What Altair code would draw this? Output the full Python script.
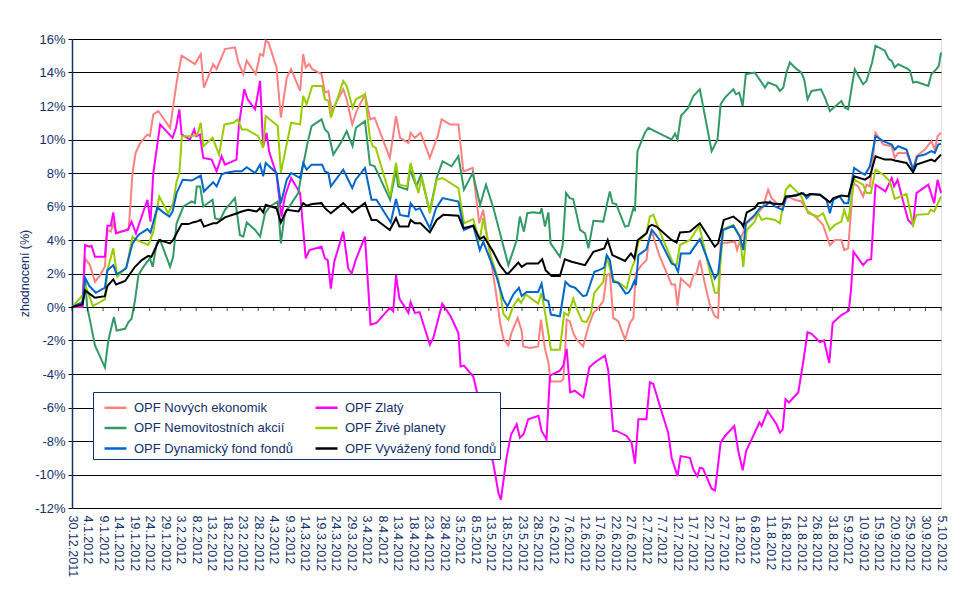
import datetime as dt
import pandas as pd
import altair as alt

# ---- data: (days after 30.12.2011, return in %) ----
START = dt.datetime(2011, 12, 30)
END = dt.datetime(2012, 10, 5)

NOVE = [(0,0),(3.4,0.1),(4.2,2.9),(5.8,2.5),(7.4,1.5),(9.0,1.9),(10.6,2.4),(11.4,4.6),(12.5,4.5),(13.3,5.0),(14.2,4.4),(17.4,4.6),(18.3,4.7),(19.5,8.0),(20.5,9.2),(22.0,9.8),(24.3,10.3),(25.1,10.2),(26.2,11.5),(27.8,11.7),(31.6,10.7),(33.7,13.4),(35.3,15.0),(39.6,14.5),(41.5,15.1),(42.5,13.1),(45.5,14.5),(46.6,14.2),(49.3,15.4),(52.5,15.5),(53.6,14.6),(55.2,13.9),(56.3,14.7),(59.2,13.9),(60.6,15.1),(61.6,15.0),(62.4,15.9),(63.3,15.8),(65.9,14.3),(67.3,11.3),(69.2,13.7),(70.6,14.2),(73.5,12.9),(74.5,15.1),(75.3,14.3),(76.4,14.5),(77.4,14.2),(80.4,13.9),(81.5,12.8),(82.6,12.9),(83.7,11.7),(87.4,13.0),(88.5,12.4),(90.3,10.9),(91.7,11.7),(94.4,12.7),(96.1,11.2),(97.5,11.3),(102.4,8.9),(104.4,11.4),(105.7,10.1),(108.4,9.8),(109.1,10.4),(110.5,10.1),(112.3,10.4),(115.3,8.9),(118.0,10.3),(119.1,11.2),(121.8,10.9),(124.5,10.9),(126.1,8.1),(129.1,8.3),(131.2,5.0),(132.5,5.8),(133.6,4.4),(136.5,1.0),(138.0,-1.0),(139.0,-1.9),(140.6,-2.3),(141.6,-1.55),(143.6,-0.65),(144.9,-1.45),(145.4,-2.35),(147.6,-2.45),(150.2,-2.35),(151.1,-0.75),(152.4,-2.5),(153.5,-3.3),(154.2,-4.45),(157.5,-4.45),(158.3,-4.3),(158.8,-2.9),(159.4,-0.75),(160.4,-0.85),(161.5,-1.55),(162.6,-1.95),(164.7,-2.35),(166.4,-1.15),(168.0,-0.35),(169.6,-0.05),(171.2,0.35),(172.3,1.9),(173.3,2.0),(174.4,-0.65),(176.0,-0.85),(178.2,-1.95),(179.8,-0.95),(180.9,-0.65),(181.6,2.0),(183.5,2.5),(185.1,2.8),(185.9,4.0),(186.8,4.5),(189.4,3.0),(193.2,1.35),(194.3,1.35),(195.1,0.05),(196.2,1.7),(199.1,1.2),(200.2,1.9),(201.2,2.0),(202.3,2.8),(203.9,1.4),(205.5,0.15),(207.1,-0.55),(208.2,-0.65),(209.0,3.8),(213.6,3.9),(214.3,3.4),(215.3,4.0),(217.4,5.0),(220.0,5.4),(222.7,6.0),(224.3,7.0),(225.4,6.5),(227.6,6.1),(229.2,6.0),(230.2,6.6),(231.8,6.5),(232.9,6.4),(235.0,6.3),(237.2,5.7),(239.5,5.4),(242.0,4.9),(244.2,3.7),(245.8,4.0),(247.9,4.0),(248.8,3.4),(250.1,3.5),(251.7,7.4),(253.3,7.2),(254.9,6.6),(256.0,7.3),(257.1,7.2),(258.9,10.4),(261.4,9.7),(264.1,9.6),(265.1,8.9),(266.2,9.2),(268.9,9.2),(271.0,8.2),(272.1,9.0),(274.8,9.4),(276.9,9.9),(278.0,9.4),(278.9,10.2),(280.0,10.4)]

ZLATY = [(0,0),(3.4,0.0),(4.2,3.7),(5.6,3.6),(6.3,3.65),(7.4,3.0),(10.6,3.0),(11.4,4.85),(12.5,4.85),(13.3,5.65),(14.2,4.4),(16.0,4.5),(18.0,4.6),(19.2,5.1),(20.6,4.4),(24.3,6.4),(25.3,5.1),(26.2,8.0),(28.4,10.9),(32.4,10.1),(33.5,10.7),(34.6,11.8),(35.3,10.3),(38.0,10.0),(39.4,10.6),(40.0,10.2),(41.2,10.3),(42.3,8.9),(45.0,8.8),(46.6,8.1),(48.2,9.0),(49.3,8.5),(53.0,8.8),(53.8,10.9),(55.5,13.0),(56.6,12.4),(59.0,11.8),(60.6,13.5),(61.6,9.6),(62.7,10.4),(63.5,9.3),(65.9,7.9),(67.5,5.4),(68.6,6.6),(70.6,7.7),(73.5,6.8),(75.3,2.9),(76.5,3.4),(80.4,3.6),(81.5,2.9),(82.4,2.8),(83.4,1.1),(84.5,2.7),(87.4,4.5),(89.0,2.3),(90.1,2.0),(91.4,2.8),(94.4,4.2),(96.2,-1.05),(98.1,-0.95),(102.4,-0.05),(103.5,-0.25),(104.4,1.9),(105.5,0.5),(108.4,-0.35),(109.1,0.3),(110.5,-0.35),(112.0,-0.3),(115.3,-2.25),(116.4,-1.85),(119.3,0.2),(122.0,-0.55),(124.5,-1.55),(125.2,-3.55),(126.3,-3.5),(129.3,-4.15),(130.9,-5.4),(133.5,-7.5),(135.8,-9.4),(137.4,-11.1),(138.2,-11.5),(140.0,-9.0),(141.5,-7.6),(143.3,-7.0),(144.3,-7.8),(145.5,-7.6),(147.0,-6.7),(150.3,-6.5),(151.3,-7.4),(152.9,-7.9),(154.0,-4.1),(157.2,-3.8),(158.3,-3.5),(159.4,-2.5),(160.5,-5.1),(162.0,-5.0),(164.8,-5.4),(166.7,-3.6),(168.5,-3.3),(171.7,-2.9),(172.8,-3.8),(174.4,-7.4),(175.5,-7.4),(178.7,-7.7),(180.3,-8.1),(181.4,-9.35),(182.5,-6.7),(185.1,-6.7),(186.2,-4.5),(187.3,-4.6),(189.4,-5.9),(192.1,-7.5),(193.2,-9.0),(195.1,-10.1),(196.1,-8.9),(199.1,-9.0),(200.2,-9.7),(201.5,-10.1),(202.3,-9.6),(203.3,-9.65),(206.1,-10.85),(207.2,-10.95),(209.0,-8.1),(210.4,-7.7),(213.4,-7.1),(214.7,-8.6),(216.1,-9.75),(217.2,-8.6),(219.5,-7.7),(221.5,-6.9),(222.2,-7.1),(224.1,-6.2),(227.0,-7.0),(228.1,-7.5),(229.0,-7.3),(229.9,-5.5),(231.0,-5.7),(234.0,-5.1),(235.6,-3.3),(237.0,-1.5),(238.3,-1.6),(241.0,-2.1),(242.3,-2.0),(244.0,-3.35),(245.1,-0.95),(247.8,-0.5),(249.6,-0.3),(250.3,-0.2),(251.0,1.0),(251.8,3.3),(254.9,2.5),(256.3,2.8),(257.5,2.85),(258.9,7.3),(262.1,6.9),(264.1,7.7),(264.9,7.2),(266.0,7.6),(267.8,6.3),(269.4,5.2),(271.0,4.9),(272.1,6.8),(275.9,7.3),(277.8,6.2),(278.9,7.6),(280.0,6.8)]

NEMO = [(0,0),(3.4,0.3),(4.2,1.7),(4.9,0.0),(5.8,-0.8),(7.4,-2.3),(10.6,-3.6),(11.7,-2.0),(13.5,-0.6),(14.4,-1.4),(17.1,-1.3),(18.2,-0.9),(19.2,-0.7),(20.3,0.4),(21.4,1.9),(23.0,2.4),(25.1,2.9),(26.0,2.4),(27.3,3.8),(28.4,4.0),(31.6,2.4),(32.6,3.0),(33.7,5.0),(35.9,6.0),(38.6,6.3),(39.6,6.2),(40.2,7.2),(41.3,7.2),(42.3,6.0),(45.3,6.4),(46.1,5.3),(47.7,5.2),(49.3,5.8),(52.5,6.5),(54.1,4.3),(55.2,4.2),(56.3,5.05),(59.0,4.6),(60.6,4.2),(62.2,5.6),(63.8,6.0),(66.3,6.3),(67.3,3.8),(68.6,5.6),(72.9,6.8),(74.0,8.0),(75.9,9.8),(77.2,10.8),(80.4,11.2),(81.5,10.6),(82.6,10.4),(84.2,9.1),(86.9,9.9),(88.5,10.5),(90.4,9.6),(91.5,10.7),(94.4,11.1),(96.0,8.5),(97.5,8.4),(102.5,6.4),(104.4,8.2),(105.1,7.2),(108.0,7.0),(108.9,8.2),(111.0,7.2),(112.4,7.9),(115.3,5.7),(117.5,7.7),(119.4,8.7),(122.3,8.4),(124.5,9.0),(126.3,7.0),(129.1,8.0),(131.5,6.1),(133.4,7.3),(135.8,5.9),(140.6,2.5),(143.3,4.0),(144.3,5.4),(145.6,4.5),(146.7,5.6),(148.6,5.65),(150.8,5.6),(151.3,5.9),(152.4,4.8),(153.5,5.65),(154.2,3.8),(157.2,3.0),(158.1,3.7),(159.2,6.8),(160.4,6.5),(161.5,6.45),(163.7,4.6),(165.3,4.4),(166.4,3.5),(168.0,5.15),(171.2,5.1),(172.5,6.25),(173.3,6.9),(174.2,6.2),(175.3,6.15),(178.2,4.8),(179.3,4.85),(180.9,5.9),(181.4,5.8),(182.2,9.3),(183.5,9.9),(184.6,10.4),(185.7,10.7),(188.9,10.4),(193.2,10.0),(194.3,10.35),(195.1,10.0),(196.2,11.4),(198.6,11.9),(200.2,12.6),(202.3,13.0),(206.1,9.3),(208.0,10.0),(209.0,12.1),(210.4,12.5),(213.1,13.0),(213.9,12.7),(215.0,12.8),(216.1,12.0),(217.1,13.9),(220.0,14.0),(223.3,13.1),(224.3,13.4),(227.0,13.2),(228.1,12.9),(229.2,13.1),(230.2,14.0),(231.3,14.6),(233.5,14.2),(235.0,14.0),(235.9,13.6),(237.0,12.4),(238.3,12.9),(241.3,13.0),(242.6,12.5),(244.2,11.7),(247.9,12.3),(249.0,11.9),(250.1,11.8),(252.2,14.2),(254.9,13.3),(256.0,13.5),(257.8,14.6),(258.9,15.6),(261.9,15.3),(263.2,14.8),(264.1,14.7),(265.1,14.3),(266.2,14.5),(269.4,14.2),(270.0,14.1),(271.0,13.4),(272.1,13.45),(275.9,13.2),(276.9,13.9),(278.5,14.2),(279.3,14.4),(280.0,15.2)]

ZIVE = [(0,0),(3.7,0.75),(4.5,1.2),(6.7,0.05),(10.6,0.45),(11.4,2.2),(13.3,3.5),(14.6,1.8),(17.6,2.4),(19.5,4.2),(20.8,4.0),(24.6,3.7),(26.2,4.5),(28.1,6.6),(31.0,5.6),(32.6,6.2),(33.7,7.5),(34.6,8.0),(35.4,10.2),(38.6,10.2),(40.4,10.3),(41.5,11.0),(42.3,9.6),(45.3,10.1),(47.4,9.1),(49.1,10.9),(52.0,11.0),(53.4,11.2),(54.7,10.6),(56.3,10.6),(60.0,10.2),(61.6,9.5),(62.4,11.4),(66.3,10.8),(67.3,8.0),(68.6,9.2),(70.6,11.0),(73.5,10.9),(74.5,12.6),(75.6,12.1),(77.4,13.2),(80.6,13.2),(81.5,12.4),(82.6,12.3),(83.4,11.3),(85.8,12.6),(87.4,13.5),(88.5,13.2),(90.4,11.9),(91.5,12.4),(94.4,12.7),(96.0,10.1),(96.9,9.6),(97.9,9.5),(102.5,6.6),(104.4,8.6),(105.5,7.3),(108.0,7.2),(109.1,8.6),(111.6,6.8),(112.7,7.8),(115.3,5.6),(117.5,7.6),(119.4,7.7),(124.5,7.1),(126.3,5.0),(129.3,5.25),(131.3,3.9),(132.5,5.3),(135.0,3.0),(137.4,1.6),(139.0,-0.4),(140.6,-0.75),(142.2,0.05),(143.8,0.5),(144.7,0.25),(146.2,0.75),(150.2,0.2),(151.3,0.85),(152.9,-0.85),(154.3,-2.55),(157.2,-2.55),(158.6,-0.35),(159.9,-0.5),(161.5,0.5),(162.6,-0.1),(164.4,-0.85),(165.8,-0.9),(167.2,-0.35),(168.3,0.85),(171.2,1.5),(172.3,3.0),(174.4,1.6),(176.6,1.4),(178.7,1.1),(180.3,2.3),(181.4,2.8),(182.5,3.9),(185.1,4.4),(186.2,5.4),(187.3,5.5),(189.4,4.5),(193.7,2.6),(194.8,2.5),(195.9,3.7),(199.1,4.0),(202.1,4.85),(207.1,0.85),(208.2,0.85),(209.8,4.65),(213.1,4.9),(215.2,4.2),(216.3,2.4),(217.4,4.6),(220.0,5.1),(221.1,5.6),(222.2,5.2),(223.8,5.3),(226.5,5.2),(228.1,5.0),(230.0,7.0),(231.3,7.3),(233.5,6.9),(235.0,6.6),(237.2,5.6),(240.4,5.4),(242.0,5.6),(244.2,4.6),(245.8,4.9),(247.9,5.1),(248.8,5.8),(250.1,5.1),(252.0,7.6),(254.9,7.3),(256.0,6.8),(257.4,6.8),(258.9,8.2),(261.4,7.9),(263.5,7.5),(265.1,6.45),(268.9,6.75),(271.0,4.9),(272.1,5.5),(275.9,5.55),(276.7,5.8),(277.8,5.7),(280.0,6.6)]

DYN = [(0,0),(3.4,0.25),(4.2,1.75),(5.6,1.25),(7.7,0.85),(10.6,1.15),(11.4,2.2),(13.3,2.5),(14.4,1.95),(17.4,2.3),(19.5,3.8),(21.4,4.3),(24.3,4.65),(25.3,4.45),(27.5,5.95),(29.4,5.65),(31.4,5.4),(32.4,5.7),(33.7,6.8),(35.7,7.6),(38.6,7.55),(41.5,7.85),(42.5,6.9),(45.5,7.45),(46.6,7.2),(48.2,7.9),(49.3,8.0),(52.5,8.1),(54.7,8.1),(56.3,8.35),(59.0,8.0),(60.6,8.5),(61.6,7.8),(62.4,8.6),(65.9,8.0),(67.3,6.2),(69.2,7.6),(70.6,8.0),(73.5,7.7),(74.5,8.6),(75.6,8.2),(77.2,8.5),(80.6,8.5),(81.5,8.1),(82.6,8.0),(83.4,7.2),(87.4,8.2),(89.0,7.6),(90.3,7.1),(91.4,7.6),(94.4,8.3),(96.5,6.4),(98.1,6.4),(102.7,5.05),(104.4,6.45),(105.7,5.5),(108.4,5.4),(109.1,6.2),(110.8,5.8),(112.1,5.9),(115.3,4.7),(117.3,5.9),(119.4,6.5),(124.5,6.3),(126.3,4.6),(129.3,4.85),(131.4,3.4),(132.5,3.9),(136.3,2.1),(139.0,0.45),(140.3,0.05),(142.2,0.75),(144.0,1.15),(144.9,0.65),(146.5,0.9),(150.2,0.9),(151.3,1.4),(152.2,0.45),(153.5,0.35),(154.3,-0.45),(157.2,-0.55),(159.0,1.5),(160.4,1.25),(162.1,1.15),(164.7,0.65),(165.8,0.7),(168.3,2.1),(169.8,2.2),(171.5,2.35),(172.3,3.1),(173.3,2.8),(174.4,1.5),(176.0,1.45),(178.4,0.8),(179.3,0.85),(180.3,1.15),(181.2,1.55),(181.7,1.3),(182.5,3.1),(185.1,3.45),(185.9,4.0),(186.8,4.6),(187.3,4.5),(189.4,4.0),(193.2,2.6),(194.3,2.5),(195.3,2.1),(196.2,3.2),(199.1,3.2),(202.3,4.05),(207.1,1.7),(208.2,2.0),(209.8,4.6),(213.1,4.85),(215.2,4.2),(216.3,3.4),(217.1,5.0),(220.0,5.5),(221.6,5.9),(223.8,6.1),(224.9,6.3),(226.5,6.0),(229.0,5.8),(230.0,6.5),(231.3,6.6),(233.5,6.7),(235.6,6.8),(236.7,6.5),(238.1,6.75),(241.0,6.7),(243.1,6.4),(244.2,5.6),(245.3,6.4),(247.4,6.6),(248.8,6.2),(250.1,6.2),(252.0,8.3),(254.4,8.0),(255.5,7.9),(257.1,8.4),(258.9,10.2),(261.4,9.9),(264.1,9.7),(265.1,9.4),(266.2,9.6),(268.9,9.4),(271.0,8.2),(272.4,9.0),(274.8,9.1),(276.9,9.3),(278.0,9.2),(279.1,9.7),(280.0,9.75)]

VYV = [(0,0),(3.4,0.15),(4.2,1.0),(5.6,0.8),(7.4,0.55),(10.6,0.65),(11.4,1.25),(13.3,1.65),(14.2,1.35),(17.1,1.55),(20.3,2.4),(22.5,2.8),(24.6,3.05),(25.6,3.0),(28.1,4.0),(31.6,3.8),(32.6,4.0),(35.3,4.95),(37.5,4.95),(38.9,5.05),(40.2,5.1),(41.5,5.2),(42.5,4.8),(45.5,5.0),(46.6,5.0),(49.3,5.35),(52.5,5.55),(54.7,5.7),(56.8,5.8),(59.5,5.7),(60.6,5.9),(61.6,5.65),(62.4,6.1),(65.9,5.9),(67.3,5.05),(69.2,5.8),(73.0,5.7),(74.5,6.2),(75.6,6.05),(77.4,6.15),(80.4,6.2),(81.5,5.9),(83.4,5.6),(87.4,6.2),(90.3,5.65),(94.4,6.2),(96.5,5.2),(98.1,5.2),(102.4,4.6),(104.4,5.3),(105.5,4.8),(108.4,4.8),(109.1,5.2),(110.5,5.0),(112.3,5.0),(115.3,4.45),(117.5,5.2),(119.6,5.5),(124.5,5.45),(126.1,4.7),(129.3,4.85),(131.4,4.05),(132.7,4.2),(135.7,3.3),(137.9,2.5),(140.0,2.0),(140.6,2.0),(143.8,2.65),(144.9,2.4),(146.5,2.6),(150.2,2.6),(151.5,2.85),(152.6,2.2),(154.5,1.85),(157.2,1.85),(158.8,2.85),(161.0,2.7),(165.3,2.5),(168.0,3.3),(171.5,3.5),(172.6,4.0),(174.1,3.1),(178.2,2.75),(180.1,3.2),(181.2,2.9),(182.3,4.0),(185.1,4.4),(185.9,4.8),(186.8,4.9),(188.3,4.8),(193.2,4.0),(194.8,3.85),(195.9,4.45),(199.1,4.5),(202.3,5.0),(207.1,3.6),(208.2,3.8),(210.0,5.2),(213.1,5.4),(215.7,5.0),(216.3,4.8),(217.4,5.65),(220.0,5.9),(221.1,6.2),(223.8,6.25),(226.8,6.15),(229.0,6.15),(230.0,6.6),(233.5,6.65),(235.0,6.8),(236.7,6.65),(237.7,6.75),(241.0,6.7),(244.2,6.25),(245.3,6.5),(247.9,6.65),(250.1,6.6),(252.0,7.8),(255.5,7.6),(257.1,7.8),(258.9,9.0),(261.9,8.8),(264.1,8.8),(265.1,8.75),(268.9,8.6),(271.0,8.05),(272.1,8.5),(276.9,8.8),(278.0,8.7),(280.0,9.1)]

# drawing order (last on top)
SERIES = ["OPF Nových ekonomik", "OPF Zlatý", "OPF Nemovitostních akcií",
          "OPF Živé planety", "OPF Dynamický fond fondů", "OPF Vyvážený fond fondů"]
VALUES = [NOVE, ZLATY, NEMO, ZIVE, DYN, VYV]
# legend order (filled column by column: 3 rows x 2 columns)
LEGEND_ORDER = ["OPF Nových ekonomik", "OPF Nemovitostních akcií", "OPF Dynamický fond fondů",
                "OPF Zlatý", "OPF Živé planety", "OPF Vyvážený fond fondů"]
LEGEND_COLORS = ["#FF8080", "#339966", "#0066CC", "#FF00FF", "#99CC00", "#000000"]

TICK_STEP_DAYS = 5
Y_TICKS = list(range(-12, 17, 2))

NAVY = "#12306A"
FONT = "Liberation Sans"

rows = []
for name, pts in zip(SERIES, VALUES):
    for d, v in pts:
        t = START + dt.timedelta(days=d)
        rows.append({"series": name, "date": t.strftime("%Y-%m-%dT%H:%M:%S"), "value": v})
df = pd.DataFrame(rows)

tick_dates = []
t = START
while t <= END:
    tick_dates.append(t)
    t += dt.timedelta(days=TICK_STEP_DAYS)
ticks_df = pd.DataFrame({"date": [d.strftime("%Y-%m-%dT%H:%M:%S") for d in tick_dates],
                         "value": [0] * len(tick_dates)})

def dtobj(d):
    return alt.DateTime(year=d.year, month=d.month, date=d.day)

x_enc = alt.X(
    "date:T",
    title=None,
    scale=alt.Scale(domain=[dtobj(START), dtobj(END)], nice=False),
    axis=alt.Axis(
        values=[dtobj(d) for d in tick_dates],
        format="%-d.%-m.%Y",
        labelAngle=90,
        labelAlign="left",
        labelBaseline="middle",
        labelPadding=7,
        labelFlush=False,
        labelOverlap=False,
        labelBound=False,
        labelFont=FONT,
        labelFontSize=12.5,
        labelColor=NAVY,
        ticks=False,
        domain=False,
        grid=False,
    ),
)
y_enc = alt.Y(
    "value:Q",
    title="zhodnocení  (%)",
    scale=alt.Scale(domain=[-12, 16], nice=False, zero=False),
    axis=alt.Axis(
        values=Y_TICKS,
        labelExpr="datum.value + '%'",
        labelFont=FONT,
        labelFontSize=13,
        labelColor=NAVY,
        labelPadding=3,
        tickSize=4,
        tickColor="#000000",
        domainColor=NAVY,
        domainWidth=1.5,
        grid=True,
        gridColor="#000000",
        gridWidth=1,
        gridOpacity=1,
        titleFont=FONT,
        titleFontSize=12.5,
        titleFontWeight="normal",
        titleColor=NAVY,
        titleX=-41,
        titleY=234,
    ),
)

lines = alt.Chart(df).mark_line(strokeWidth=2).encode(
    x=x_enc,
    y=y_enc,
    color=alt.Color(
        "series:N",
        sort=LEGEND_ORDER,
        scale=alt.Scale(domain=LEGEND_ORDER, range=LEGEND_COLORS),
        legend=alt.Legend(
            title=None,
            orient="none",
            legendX=21,
            legendY=353,
            columns=2,
            gridAlign="all",
            columnPadding=14,
            rowPadding=0.5,
            padding=3,
            symbolType="stroke",
            symbolSize=484,
            symbolStrokeWidth=2.5,
            symbolOffset=7,
            labelOffset=6,
            labelFont=FONT,
            labelFontSize=13,
            labelColor=NAVY,
            labelLimit=0,
            strokeColor=NAVY,
            fillColor="#FFFFFF",
        ),
    ),
    order=alt.Order("date:T"),
)

zero_ticks = alt.Chart(ticks_df).mark_tick(
    orient="vertical", size=4, thickness=1, yOffset=2, color="#000000"
).encode(x=x_enc, y=y_enc)

chart = alt.layer(lines, zero_ticks).properties(
    width=869,
    height=469,
    padding={"left": 64, "top": 31, "right": 16, "bottom": 80},
    autosize=alt.AutoSizeParams(type="none"),
).configure_view(strokeWidth=0).configure(background="#FFFFFF")

chart.save("out.html", embed_options={"renderer": "svg", "actions": False})
